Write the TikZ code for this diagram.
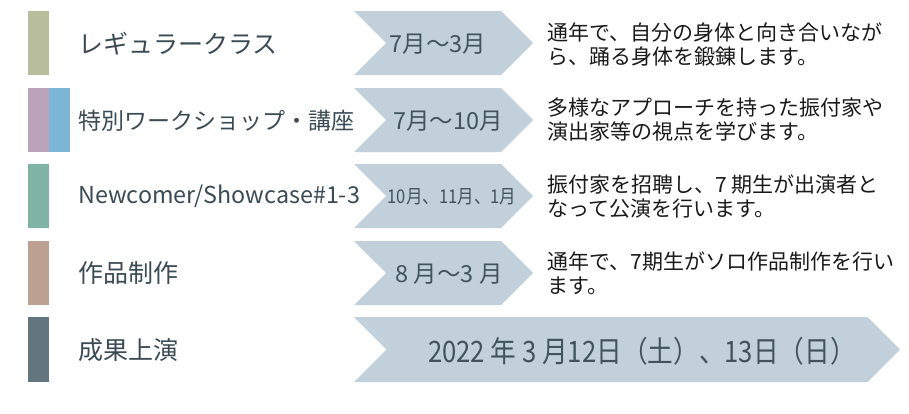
\documentclass[tikz,border=0pt]{standalone}
\usepackage{fontspec}
\setmainfont{Noto Sans CJK JP}
\newfontfamily\datefont[FakeStretch=0.87]{Noto Sans CJK JP}
\usepackage{tikz}
\usetikzlibrary{shapes.symbols,positioning}

\definecolor{regularbar}{HTML}{B8BE9D}
\definecolor{wsbar}{HTML}{BBA3BC}
\definecolor{lecbar}{HTML}{7DB5D4}
\definecolor{showbar}{HTML}{80B5A5}
\definecolor{workbar}{HTML}{BCA092}
\definecolor{stagebar}{HTML}{63757F}
\definecolor{chevfill}{HTML}{C1D0DB}
\definecolor{labeltext}{HTML}{3A4B55}
\definecolor{datetext}{HTML}{40535F}
\definecolor{desctext}{HTML}{1A1A1A}

\begin{document}
\begin{tikzpicture}[x=1pt,y=-1pt]
    \useasboundingbox (0,0) rectangle (909,413);

    %Colour bars
     \begin{scope}[every node/.style={inner sep=0pt,minimum width=21pt,minimum height=64pt,anchor=north west}]
       \node[fill=regularbar] (bar1) at (28,11) {};
       \node[fill=wsbar] (bar2) at (28,88) {};
       \node[fill=lecbar] (bar2b) at (49,88) {};
       \node[fill=showbar] (bar3) at (28,164) {};
       \node[fill=workbar] (bar4) at (28,241) {};
       \node[fill=stagebar,minimum height=65pt] (bar5) at (28,317) {};
    \end{scope}

    %Programme names
     \begin{scope}[every node/.style={anchor=west,inner sep=0pt,text=labeltext,font=\fontsize{25}{30}\selectfont}]
       \node (regular) at (78,44) {レギュラークラス};
       \node[font=\fontsize{23}{28}\selectfont] (workshop) at (78,121) {特別ワークショップ・講座};
       \node[font=\fontsize{23.3}{28}\selectfont] (showcase) at (78,196) {Newcomer/Showcase\#1-3};
       \node (works) at (78,273) {作品制作};
       \node (stage) at (78,350) {成果上演};
    \end{scope}

    %Period chevrons
     \begin{scope}[every node/.style={signal,signal from=west,signal to=east,fill=chevfill,
       inner sep=0pt,minimum width=179pt,minimum height=64pt}]
       \node (chev1) at (443.5,43) {};
       \node (chev2) at (443.5,120) {};
       \node (chev3) at (443.5,196) {};
       \node (chev4) at (443.5,273) {};
       \node[minimum width=546pt,minimum height=65pt] (chev5) at (627,349.5) {};
    \end{scope}

    \begin{scope}[every node/.style={inner sep=0pt,text=datetext,font=\fontsize{23.5}{28}\selectfont}]
       \node (date1) at (438,44) {7月〜3月};
       \node (date2) at (448,121) {7月〜10月};
       \node[font=\datefont\fontsize{19}{22}\selectfont] (date3) at (452,197) {10月、11月、1月};
       \node (date4) at (449,274) {8 月〜3 月};
       \node[font=\datefont\fontsize{29.5}{34}\selectfont] (date5) at (642,351) {2022 年 3 月12日（土）、13日（日）};
    \end{scope}

    %Descriptions
     \begin{scope}[every node/.style={anchor=west,inner sep=0pt,align=left,text=desctext,
       font=\fontsize{21}{24}\selectfont}]
       \node (desc1) at (547,44) {通年で、自分の身体と向き合いなが\\ら、踊る身体を鍛錬します。};
       \node (desc2) at (547,120) {多様なアプローチを持った振付家や\\演出家等の視点を学びます。};
       \node (desc3) at (547,197) {振付家を招聘し、7 期生が出演者と\\なって公演を行います。};
       \node (desc4) at (547,273) {通年で、7期生がソロ作品制作を行い\\ます。};
    \end{scope}
  \end{tikzpicture}
\end{document}
